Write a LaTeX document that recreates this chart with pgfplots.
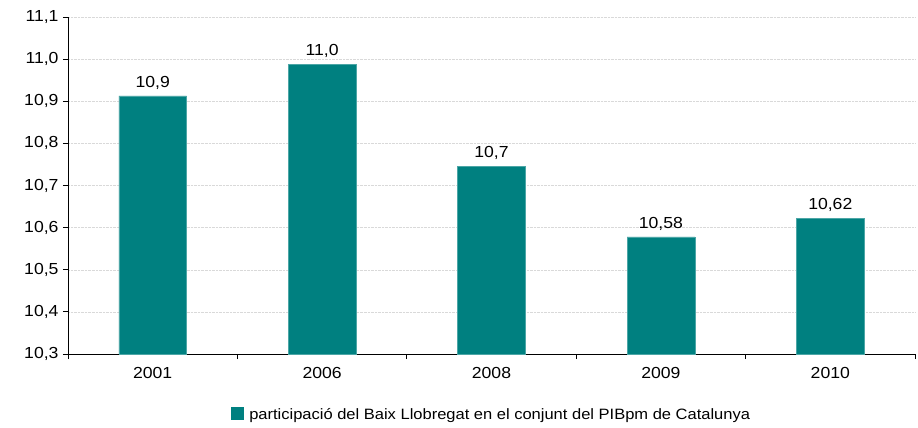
\documentclass[border=0pt]{standalone}
\usepackage{pgfplots}
\pgfplotsset{compat=1.18}
\usepackage{pgfplotstable}
\usepackage{fontspec}
\setmainfont[FakeStretch=1.1]{Liberation Sans}
\definecolor{barteal}{HTML}{008080}
\pgfplotstableread{
x y lab
0 10.913 10,9
1 10.988 11,0
2 10.746 10,7
3 10.578 10,58
4 10.622 10,62
}\datatab
\begin{document}
\begin{tikzpicture}
\begin{axis}[
  scale only axis,
  width=847bp, height=337bp,
  xmin=-0.5, xmax=4.5,
  ymin=10.3, ymax=11.1,
  ytick={10.3,10.4,...,11.15},
  xtick={0,1,2,3,4},
  xticklabels={2001,2006,2008,2009,2010},
  minor xtick={-0.5,0.5,1.5,2.5,3.5,4.5},
  major x tick style={draw=none},
  tick align=outside,
  tick style={black, thick},
  major tick length=5bp,
  minor tick length=5bp,
  axis x line*=bottom,
  axis y line*=left,
  axis line style={black, thick},
  ymajorgrids,
  grid style={gray!30, densely dotted},
  /pgf/number format/.cd, use comma, fixed, fixed zerofill, precision=1,
  /pgfplots/.cd,
  /pgf/number format/assume math mode=true,
  tick label style={font=\fontsize{16bp}{18bp}\selectfont},
  yticklabel style={xshift=-1bp},
  xticklabel style={yshift=-5bp},
  nodes near coords,
  point meta=explicit symbolic,
  nodes near coords style={font=\fontsize{16bp}{18bp}\selectfont, yshift=3bp},
  legend style={at={(0.5,-0.18)}, anchor=center, draw=none, font=\fontsize{15bp}{17bp}\selectfont, legend cell align=left},
  legend image code/.code={\fill[barteal] (0bp,-5bp) rectangle (12bp,7bp);},
]
\addplot[ybar, bar width=0.4, fill=barteal, draw=barteal!70!white] table[x=x, y=y, meta=lab] {\datatab};
\addlegendentry{\hspace{4bp}participació del Baix Llobregat en el conjunt del PIBpm de Catalunya}
\end{axis}
\path[use as bounding box] (-68bp,-74bp) rectangle (850bp,354bp);
\end{tikzpicture}
\end{document}
